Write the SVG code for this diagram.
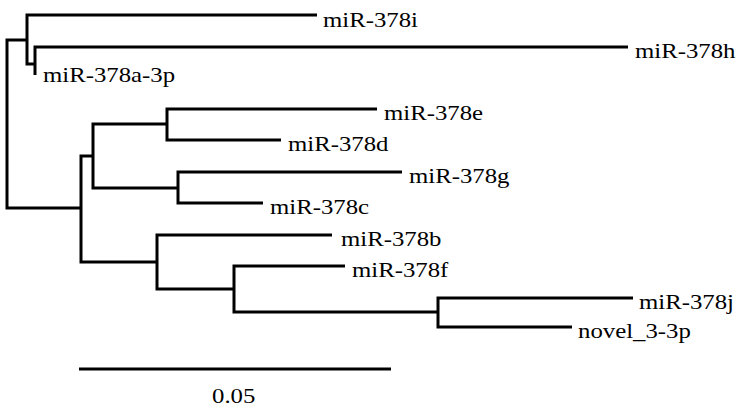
<svg xmlns="http://www.w3.org/2000/svg" width="743" height="409" viewBox="0 0 743 409">
<style>
.e{fill:none;stroke:#000;stroke-width:3;stroke-linejoin:miter;stroke-linecap:butt}
.t{font-family:'Liberation Serif',serif;font-size:21px;fill:#000}
.sx{transform-box:fill-box}
</style>
<rect width="743" height="409" fill="#fff"/>
<g id="connectors">
<path class="e" d="M27 40 H7 V208 H81"/>
<path class="e" d="M317 15 H27 V64 H35"/>
<path class="e" d="M628 47 H35 V75"/>
<path class="e" d="M93 156 H81 V262 H157"/>
<path class="e" d="M167 124 H93 V188 H178"/>
<path class="e" d="M377 109 H167 V140 H281"/>
<path class="e" d="M402 172 H178 V203 H263"/>
<path class="e" d="M332 235 H157 V289 H234"/>
<path class="e" d="M345 266 H234 V312 H438"/>
<path class="e" d="M633 298 H438 V327 H572"/>
<path class="e" d="M79 369 H391"/>
</g>
<g id="miR-378i"><text class="t" transform="translate(323 27) scale(1.18 1)">miR-378i</text></g>
<g id="miR-378h"><text class="t" transform="translate(635 58) scale(1.18 1)">miR-378h</text></g>
<g id="miR-378a-3p"><text class="t" transform="translate(43 82) scale(1.18 1)">miR-378a-3p</text></g>
<g id="miR-378e"><text class="t" transform="translate(384 120) scale(1.18 1)">miR-378e</text></g>
<g id="miR-378d"><text class="t" transform="translate(288 151) scale(1.18 1)">miR-378d</text></g>
<g id="miR-378g"><text class="t" transform="translate(409 183) scale(1.18 1)">miR-378g</text></g>
<g id="miR-378c"><text class="t" transform="translate(270 214) scale(1.18 1)">miR-378c</text></g>
<g id="miR-378b"><text class="t" transform="translate(341 246) scale(1.18 1)">miR-378b</text></g>
<g id="miR-378f"><text class="t" transform="translate(352 277) scale(1.18 1)">miR-378f</text></g>
<g id="miR-378j"><text class="t" transform="translate(639 309) scale(1.18 1)">miR-378j</text></g>
<g id="novel_3-3p"><text class="t" transform="translate(578 338) scale(1.18 1)">novel_3-3p</text></g>
<g id="scale"><text class="t" transform="translate(212 403) scale(1.18 1)">0.05</text></g>
</svg>
